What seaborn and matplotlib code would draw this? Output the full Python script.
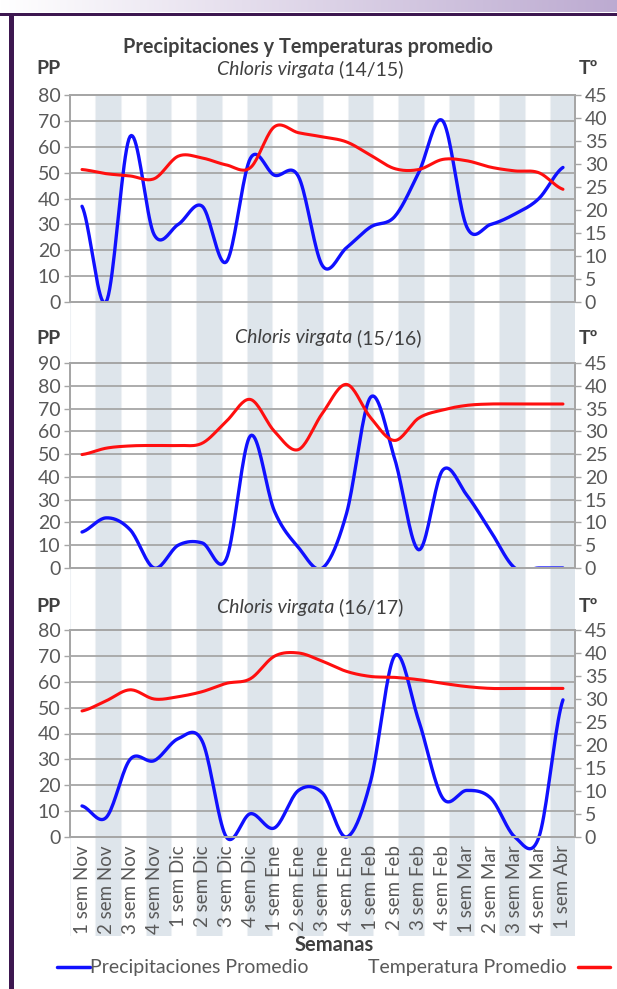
import numpy as np
import pandas as pd
import matplotlib
matplotlib.use('Agg')
import matplotlib.pyplot as plt
import seaborn as sns
from matplotlib.lines import Line2D
from matplotlib.patches import Rectangle

# weeks on the category axis
semanas = ['1 sem Nov', '2 sem Nov', '3 sem Nov', '4 sem Nov',
           '1 sem Dic', '2 sem Dic', '3 sem Dic', '4 sem Dic',
           '1 sem Ene', '2 sem Ene', '3 sem Ene', '4 sem Ene',
           '1 sem Feb', '2 sem Feb', '3 sem Feb', '4 sem Feb',
           '1 sem Mar', '2 sem Mar', '3 sem Mar', '4 sem Mar',
           '1 sem Abr']

# precipitation (PP, mm) and temperature (Tº) per season
pp_1415 = [37, 0, 64, 26, 30, 37, 15.5, 55.5, 49, 48.5, 14, 21, 29, 33, 50, 70, 29, 30, 34, 40, 52]
temp_1415 = [28.8, 27.9, 27.4, 26.8, 31.7, 31.3, 29.8, 29.2, 38.1, 36.8, 35.9, 34.8, 31.9, 29, 28.8, 31, 30.7, 29.3, 28.5, 28.1, 24.5]

pp_1516 = [15.8, 22, 16.8, 0, 10, 11, 4, 58, 25, 9, 0, 24, 75, 48, 8, 43, 32, 16, 0, 0, 0]
temp_1516 = [24.9, 26.3, 26.8, 26.9, 26.9, 27.4, 32.2, 37, 30, 26, 34, 40.3, 33, 28, 32.9, 34.7, 35.7, 36, 36, 36, 36]

pp_1617 = [12, 7.5, 30, 29.5, 38, 37, 0, 9, 3.5, 18, 17, 0, 21.5, 70, 45, 15, 18, 15, 0, 0, 53]
temp_1617 = [27.4, 29.6, 32, 30, 30.5, 31.6, 33.4, 34.4, 39.3, 40, 38.2, 36, 34.9, 34.7, 34.2, 33.4, 32.7, 32.3, 32.3, 32.3, 32.3]

temporadas = ['(14/15)', '(15/16)', '(16/17)']
pp_max = [80, 90, 80]

W, H = 617, 989
GRID = '#a6a6a6'
TXT = '#595959'
DARK = '#404040'
BLUE = '#1010ff'
RED = '#ff0f0f'
PURPLE = '#3d1750'

sns.set_style('white')
plt.rcParams['font.family'] = ['Lato', 'DejaVu Sans']


def smooth_line(vals, n=20):
    # cardinal spline through the points, like the "smoothed line" option of the original
    y = np.asarray(vals, dtype=float)
    m = np.empty_like(y)
    m[1:-1] = (y[2:] - y[:-2]) / 2
    m[0] = (y[1] - y[0]) / 2
    m[-1] = (y[-1] - y[-2]) / 2
    t = np.linspace(0, 1, n, endpoint=False)
    h00 = 2 * t**3 - 3 * t**2 + 1
    h10 = t**3 - 2 * t**2 + t
    h01 = -2 * t**3 + 3 * t**2
    h11 = t**3 - t**2
    xs, ys = [], []
    for i in range(len(y) - 1):
        xs.append(i + t)
        ys.append(h00 * y[i] + h10 * m[i] + h01 * y[i + 1] + h11 * m[i + 1])
    xs.append([len(y) - 1])
    ys.append([y[-1]])
    return pd.DataFrame({'x': np.concatenate(xs), 'y': np.concatenate(ys)})


def fx(px):
    return px / W


def fy(py):
    return 1 - py / H


fig = plt.figure(figsize=(W / 100, H / 100), dpi=100)

# frame decoration
deco = fig.add_axes([0, 0, 1, 1], zorder=-1)
deco.set_xlim(0, W)
deco.set_ylim(H, 0)
deco.axis('off')
grad = np.linspace(0, 1, 256)[None, :, None]
c0 = np.array([1.0, 1.0, 1.0])
c1 = np.array([0.74, 0.67, 0.82])
deco.imshow(c0 + (c1 - c0) * grad, extent=[0, W, 12.5, 0], aspect='auto')
deco.add_patch(Rectangle((0, 12.5), W, 3.5, color=PURPLE, lw=0))
deco.add_patch(Rectangle((8.5, 12.5), 5, H, color=PURPLE, lw=0))

# striped background behind the three panels
bg = fig.add_axes([fx(70), fy(936), fx(505), (936 - 95) / H], zorder=0)
bg.set_xlim(0, 20)
bg.set_ylim(0, 1)
bg.axis('off')
for i in range(1, 20, 2):
    bg.axvspan(i, i + 1, color='#dee5eb', lw=0)
for i in range(21):
    bg.axvline(i, color='#eef1f4', lw=0.8)

panels = [
    (95, 302, pp_1415, temp_1415),
    (363, 568, pp_1516, temp_1516),
    (630, 837, pp_1617, temp_1617),
]

x = np.arange(len(semanas))
for k, (top, bot, pp, tt) in enumerate(panels):
    ax = fig.add_axes([fx(70), fy(bot), fx(505), (bot - top) / H], zorder=1)
    ax.set_facecolor('none')
    ax2 = ax.twinx()
    ax2.set_zorder(2)

    d_pp = smooth_line(pp)
    d_tt = smooth_line(tt)
    sns.lineplot(data=d_pp, x='x', y='y', ax=ax, color=BLUE, lw=2.4,
                 estimator=None, legend=False)
    sns.lineplot(data=d_tt, x='x', y='y', ax=ax2, color=RED, lw=2.2,
                 estimator=None, legend=False)
    if k == 2:
        ax.lines[-1].set_clip_on(False)

    ax.set_xlim(-0.5, len(semanas) - 0.5)
    ax.set_ylim(0, pp_max[k])
    ax.set_yticks(np.arange(0, pp_max[k] + 1, 10))
    ax2.set_ylim(0, 45)
    ax2.set_yticks(np.arange(0, 46, 5))
    ax.set_xlabel('')
    ax.set_ylabel('')
    ax2.set_ylabel('')

    ax.grid(axis='y', color=GRID, lw=1.3)
    ax.grid(axis='x', visible=False)
    ax2.grid(False)
    ax.set_axisbelow(True)
    for a in (ax, ax2):
        for s in a.spines.values():
            s.set_color(GRID)
            s.set_linewidth(1.3)
        a.tick_params(axis='y', length=4, width=1, color=GRID, labelcolor=TXT,
                      labelsize=14, pad=3)

    ax.set_xticks(np.arange(-0.5, len(semanas)), minor=True)
    ax.tick_params(axis='x', which='minor', length=4, width=1, color=GRID, direction='out')
    ax.set_xticks(x)
    if k == 2:
        ax.set_xticklabels(semanas, rotation=90, ha='center', va='top')
        ax.tick_params(axis='x', which='major', length=0, labelcolor=TXT,
                       labelsize=13.5, pad=6)
    else:
        ax.set_xticklabels([])
        ax.tick_params(axis='x', which='major', length=0)

# texts
fig.text(fx(308), fy(47), 'Precipitaciones y Temperaturas promedio', ha='center',
         va='center', fontsize=14.3, fontweight='bold', color=DARK)

renderer = fig.canvas.get_renderer()
title_pos = [(310, 69), (328, 338), (310, 607)]
for k, (cx, cy) in enumerate(title_pos):
    t1 = fig.text(0, fy(cy), 'Chloris virgata', ha='left', va='center', fontsize=14,
                  style='italic', color=DARK)
    t2 = fig.text(0, fy(cy), ' ' + temporadas[k], ha='left', va='center', fontsize=14,
                  color=DARK)
    w1 = t1.get_window_extent(renderer).width
    w2 = t2.get_window_extent(renderer).width
    x0 = cx - (w1 + w2) / 2
    t1.set_x(fx(x0))
    t2.set_x(fx(x0 + w1))
    fig.text(fx(36), fy(cy), 'PP', ha='left', va='center', fontsize=14,
             fontweight='bold', color=DARK)
    fig.text(fx(579), fy(cy), 'Tº', ha='left', va='center', fontsize=14,
             fontweight='bold', color=DARK)

fig.text(fx(334), fy(945), 'Semanas', ha='center', va='center', fontsize=14.5,
         fontweight='bold', color=DARK)

# legend
ly = fy(967)
fig.add_artist(Line2D([fx(57), fx(90)], [ly, ly], color=BLUE, lw=2.5,
                      transform=fig.transFigure))
fig.text(fx(90), ly, 'Precipitaciones Promedio', ha='left', va='center',
         fontsize=14, color=TXT)
fig.text(fx(567), ly, 'Temperatura Promedio', ha='right', va='center',
         fontsize=14, color=TXT)
fig.add_artist(Line2D([fx(578), fx(610)], [ly, ly], color=RED, lw=2.5,
                      transform=fig.transFigure))

fig.savefig('out.png', dpi=100)
